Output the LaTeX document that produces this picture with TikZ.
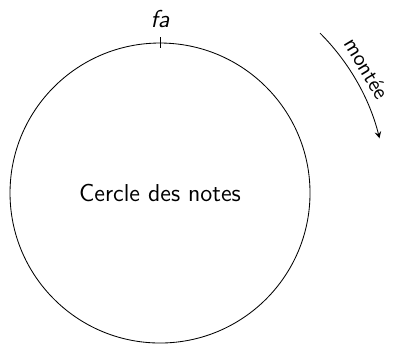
\documentclass[tikz,border=0pt]{standalone}
\usetikzlibrary{calc}
\tikzset{
    texte/.style={font=\sffamily\fontsize{11.6}{14}\selectfont},
    petittexte/.style={font=\sffamily\fontsize{10.4}{12}\selectfont},
}
\begin{document}
\begin{tikzpicture}[texte]
    % Cercle des notes avec le sens de montee
    \def\rayon{2.5}
    \def\rayonfleche{3.77}
    \useasboundingbox (-2.667,-2.517) rectangle (3.883,3.217);

    % Cercle
    \node[circle, draw, minimum size=2*\rayon cm, inner sep=0pt] (cercle) at (0,0) {Cercle des notes};

    % Repere du fa
    \coordinate (fabas) at ($(cercle.north)+(0,-0.085)$);
    \coordinate (fahaut) at ($(cercle.north)+(0,0.085)$);
    \draw (fabas) -- (fahaut);
    \node[above=1pt, font=\sffamily\fontsize{11.6}{14}\selectfont\itshape] (fa) at (fahaut) {fa};

    % Sens de montee
    \draw[-stealth] (45:\rayonfleche) arc[start angle=45, end angle=14, radius=\rayonfleche]
        node[pos=0.45, above, sloped, petittexte] (montee) {mont\'ee};
\end{tikzpicture}
\end{document}
